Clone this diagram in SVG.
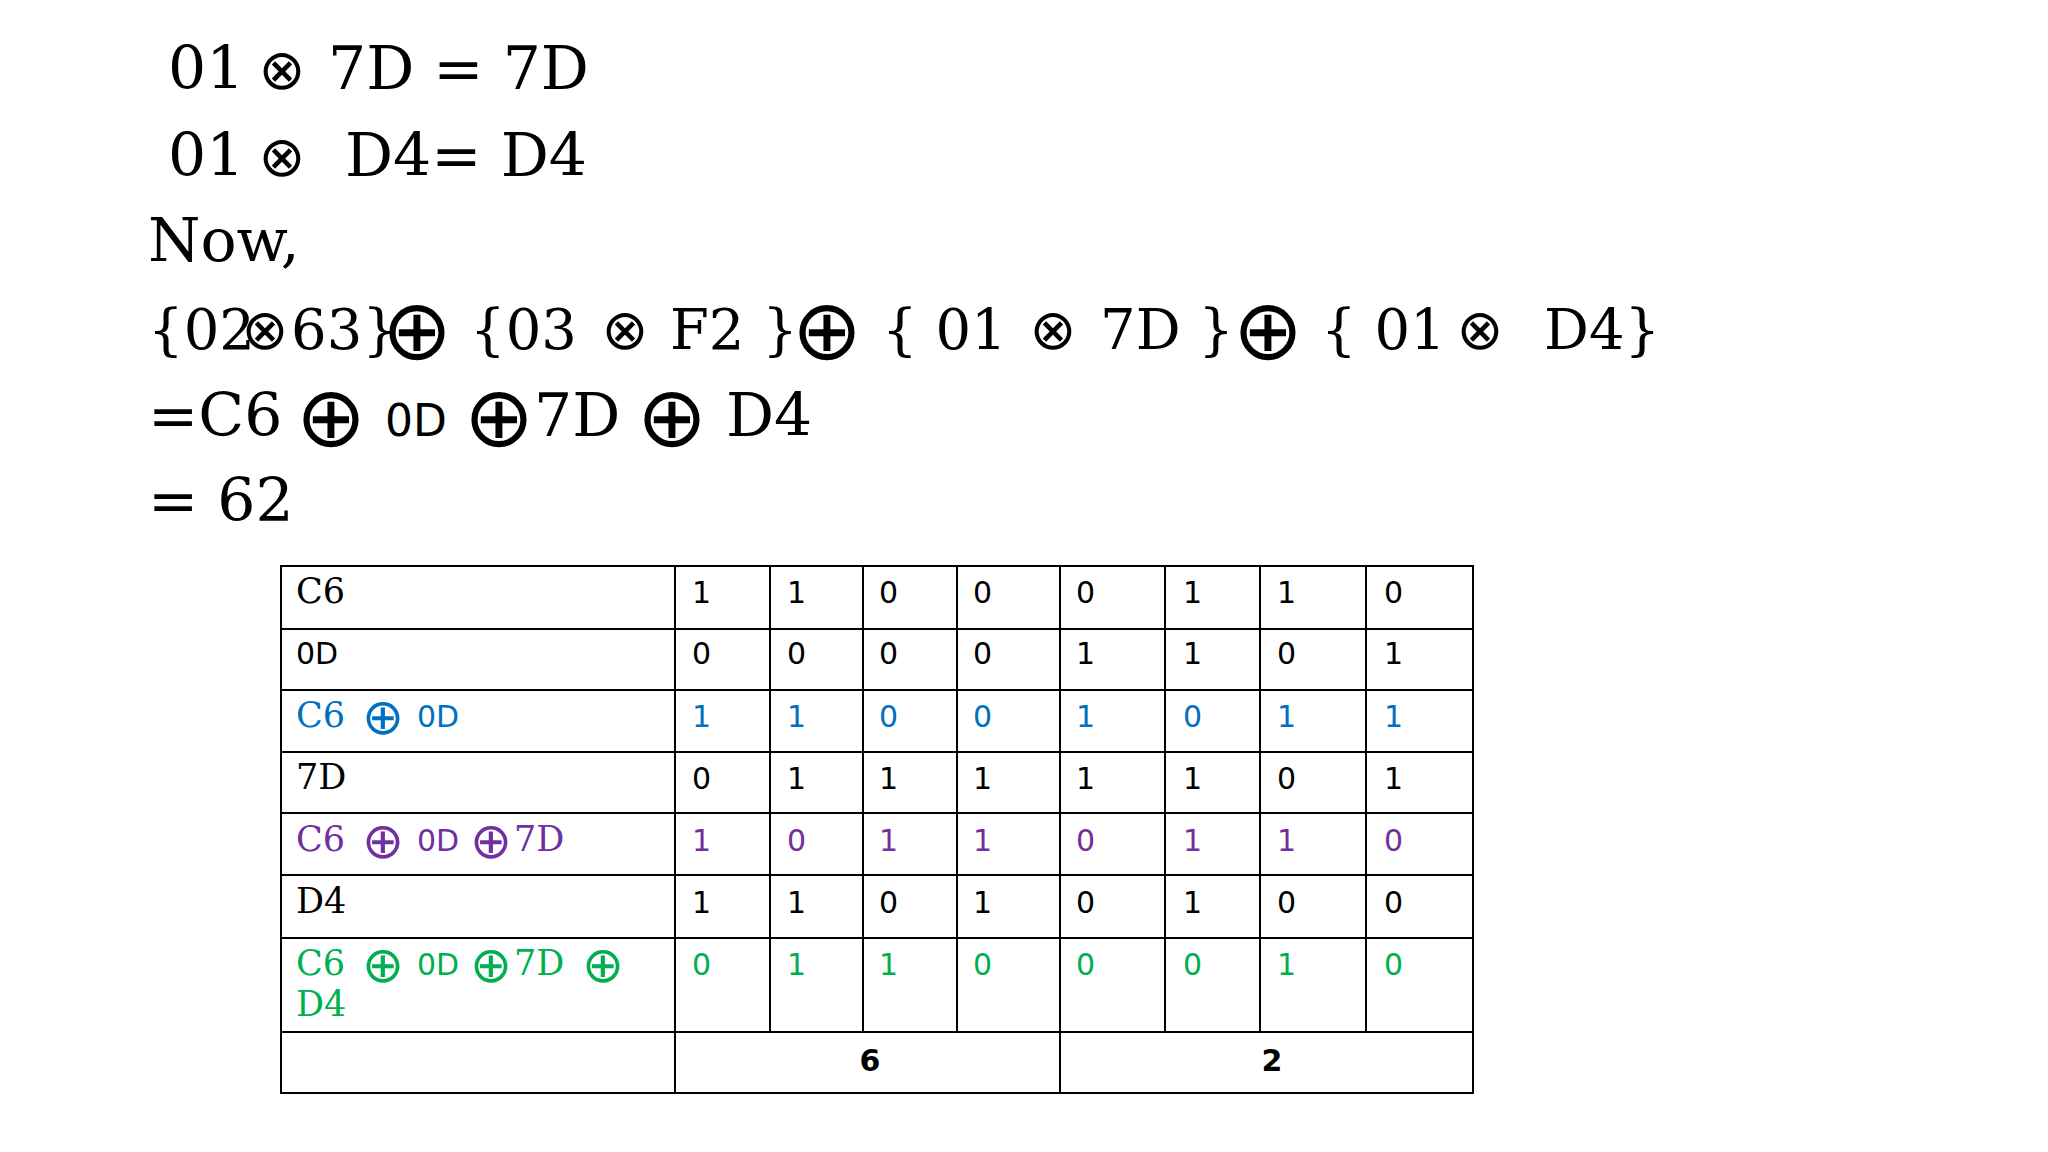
<svg xmlns="http://www.w3.org/2000/svg" width="2048" height="1152" viewBox="0 0 2048 1152">
<style>
.s{font-family:"DejaVu Serif",serif;font-size:60px;fill:#000}
.s4{font-family:"DejaVu Serif",serif;font-size:56px;fill:#000}
.ss{font-family:"DejaVu Sans",sans-serif}
.x{font-family:"DejaVu Sans",sans-serif;font-size:56px;text-anchor:middle}
.op{font-family:"DejaVu Sans",sans-serif;font-size:84px;text-anchor:middle}
.l{font-family:"DejaVu Serif",serif;font-size:35px}
.d{font-family:"DejaVu Sans",sans-serif;font-size:30px}
.o{font-family:"DejaVu Sans",sans-serif;font-size:50px;text-anchor:middle}
.b{fill:#0070C0}.p{fill:#7030A0}.g{fill:#00B050}
.grid line{stroke:#000;stroke-width:2}
</style>
<rect width="2048" height="1152" fill="#fff"/>
<g id="equations">
<text class="s" x="168" y="89">01</text><text class="x" x="282" y="89">⊗</text><text class="s" x="328" y="89">7D = 7D</text>
<text class="s" x="168" y="176">01</text><text class="x" x="282" y="176">⊗</text><text class="s" x="345" y="176">D4= D4</text>
<text class="s" x="148" y="261">Now,</text>
<text class="s4" x="148" y="349">{02</text><text class="x" x="265" y="349">⊗</text><text class="s4" x="291" y="349">63}</text>
<text class="op" x="417" y="359">⊕</text>
<text class="s4" x="470" y="349">{03</text><text class="x" x="625" y="349">⊗</text><text class="s4" x="670" y="349">F2 }</text>
<text class="op" x="827" y="359">⊕</text>
<text class="s4" x="882" y="349">{ 01</text><text class="x" x="1053" y="349">⊗</text><text class="s4" x="1100" y="349">7D }</text>
<text class="op" x="1268" y="359">⊕</text>
<text class="s4" x="1321" y="349">{ 01</text><text class="x" x="1480" y="349">⊗</text><text class="s4" x="1544" y="349">D4}</text>
<text class="s" x="148" y="436">=C6</text>
<text class="op" x="331" y="446">⊕</text>
<text class="ss" x="385" y="436" font-size="44">0D</text>
<text class="op" x="499" y="446">⊕</text>
<text class="s" x="534" y="436">7D</text>
<text class="op" x="672" y="446">⊕</text>
<text class="s" x="726" y="436">D4</text>
<text class="s" x="148" y="521">= 62</text>
</g>
<g id="table-grid" class="grid">
<rect x="281" y="566" width="1192" height="527" fill="none" stroke="#000" stroke-width="2"/>
<line x1="281" y1="629" x2="1473" y2="629"/><line x1="281" y1="690" x2="1473" y2="690"/>
<line x1="281" y1="752" x2="1473" y2="752"/><line x1="281" y1="813" x2="1473" y2="813"/>
<line x1="281" y1="875" x2="1473" y2="875"/><line x1="281" y1="938" x2="1473" y2="938"/>
<line x1="281" y1="1032" x2="1473" y2="1032"/>
<line x1="675" y1="566" x2="675" y2="1093"/><line x1="1060" y1="566" x2="1060" y2="1093"/>
<line x1="770" y1="566" x2="770" y2="1032"/><line x1="863" y1="566" x2="863" y2="1032"/>
<line x1="957" y1="566" x2="957" y2="1032"/><line x1="1165" y1="566" x2="1165" y2="1032"/>
<line x1="1260" y1="566" x2="1260" y2="1032"/><line x1="1366" y1="566" x2="1366" y2="1032"/>
</g>
<g id="row-labels">
<text class="l" x="296" y="603">C6</text>
<text class="d" x="296" y="664">0D</text>
<g class="b"><text class="l" x="296" y="727">C6</text><text class="o" x="383" y="734">⊕</text><text class="d" x="417" y="727">0D</text></g>
<text class="l" x="296" y="789">7D</text>
<g class="p"><text class="l" x="296" y="851">C6</text><text class="o" x="383" y="858">⊕</text><text class="d" x="417" y="851">0D</text><text class="o" x="491" y="858">⊕</text><text class="l" x="514" y="851">7D</text></g>
<text class="l" x="296" y="913">D4</text>
<g class="g"><text class="l" x="296" y="975">C6</text><text class="o" x="383" y="982">⊕</text><text class="d" x="417" y="975">0D</text><text class="o" x="491" y="982">⊕</text><text class="l" x="514" y="975">7D</text><text class="o" x="603" y="982">⊕</text><text class="l" x="296" y="1016">D4</text></g>
</g>
<g id="bits" class="d">
<text y="603"><tspan x="692">1</tspan><tspan x="787">1</tspan><tspan x="879">0</tspan><tspan x="973">0</tspan><tspan x="1076">0</tspan><tspan x="1183">1</tspan><tspan x="1277">1</tspan><tspan x="1384">0</tspan></text>
<text y="664"><tspan x="692">0</tspan><tspan x="787">0</tspan><tspan x="879">0</tspan><tspan x="973">0</tspan><tspan x="1076">1</tspan><tspan x="1183">1</tspan><tspan x="1277">0</tspan><tspan x="1384">1</tspan></text>
<text y="727" class="b"><tspan x="692">1</tspan><tspan x="787">1</tspan><tspan x="879">0</tspan><tspan x="973">0</tspan><tspan x="1076">1</tspan><tspan x="1183">0</tspan><tspan x="1277">1</tspan><tspan x="1384">1</tspan></text>
<text y="789"><tspan x="692">0</tspan><tspan x="787">1</tspan><tspan x="879">1</tspan><tspan x="973">1</tspan><tspan x="1076">1</tspan><tspan x="1183">1</tspan><tspan x="1277">0</tspan><tspan x="1384">1</tspan></text>
<text y="851" class="p"><tspan x="692">1</tspan><tspan x="787">0</tspan><tspan x="879">1</tspan><tspan x="973">1</tspan><tspan x="1076">0</tspan><tspan x="1183">1</tspan><tspan x="1277">1</tspan><tspan x="1384">0</tspan></text>
<text y="913"><tspan x="692">1</tspan><tspan x="787">1</tspan><tspan x="879">0</tspan><tspan x="973">1</tspan><tspan x="1076">0</tspan><tspan x="1183">1</tspan><tspan x="1277">0</tspan><tspan x="1384">0</tspan></text>
<text y="975" class="g"><tspan x="692">0</tspan><tspan x="787">1</tspan><tspan x="879">1</tspan><tspan x="973">0</tspan><tspan x="1076">0</tspan><tspan x="1183">0</tspan><tspan x="1277">1</tspan><tspan x="1384">0</tspan></text>
<text y="1071" font-weight="bold" text-anchor="middle"><tspan x="870">6</tspan><tspan x="1272">2</tspan></text>
</g>
</svg>
